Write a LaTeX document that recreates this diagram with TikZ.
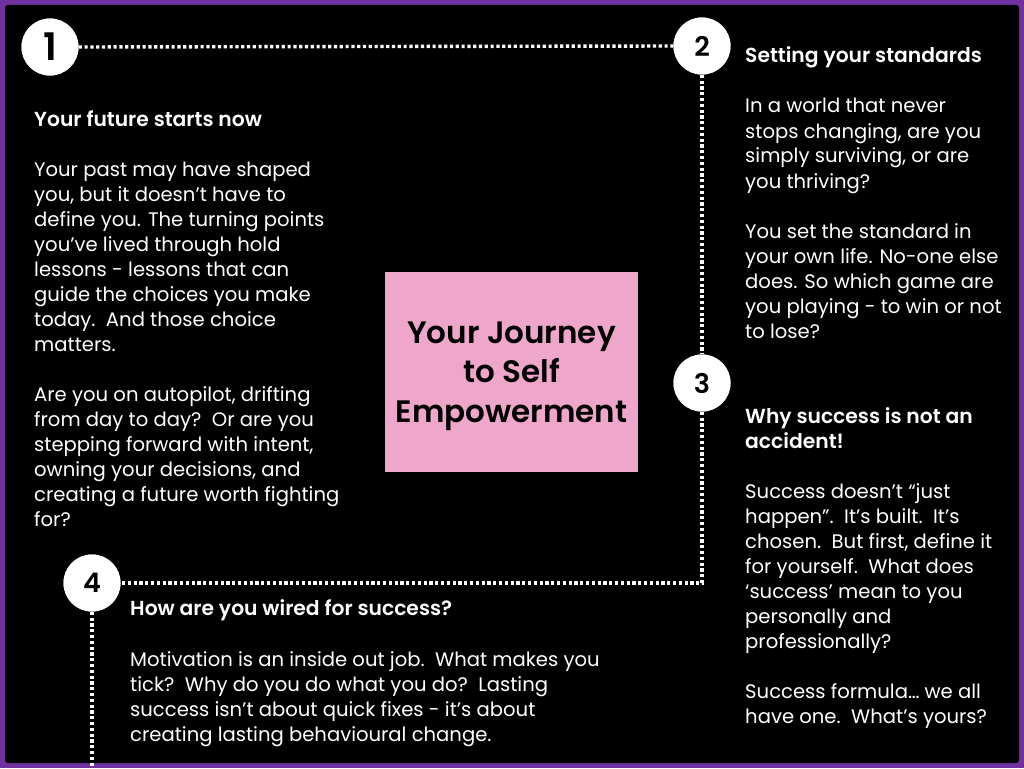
\documentclass[tikz,border=0pt]{standalone}
\usepackage{fontspec}
\setmainfont{Poppins}[BoldFont={Poppins SemiBold}]
\definecolor{frame}{HTML}{7030A0}
\definecolor{pinkbox}{HTML}{EFA6CB}
\newcommand{\blk}[1]{\vtop{\hsize=700pt\parindent=0pt\raggedright #1}}
\newcommand{\hd}[1]{{\fontsize{20.3}{25}\selectfont\bfseries #1}}
\tikzset{
  dotline/.style={white, line width=3.4pt, dash pattern=on 3.2pt off 2.6pt},
  numcirc/.style={circle, fill=white, minimum size=57pt, inner sep=0pt, text=black, font=\bfseries\fontsize{27}{30}\selectfont},
  txt/.style={text=white, anchor=base west, inner sep=0pt, font=\fontsize{19.6}{25}\selectfont},
  titlebox/.style={fill=pinkbox, minimum width=253pt, minimum height=200pt, inner sep=0pt},
  titletext/.style={align=center, inner sep=0pt, text=black, font=\bfseries\fontsize{31}{39.5}\selectfont}
}
\begin{document}
\begin{tikzpicture}[x=1pt,y=-1pt]
\useasboundingbox (0,0) rectangle (1024,768);
\fill[frame] (0,0) rectangle (1024,768);
\fill[black, rounded corners=3pt] (5,5) rectangle (1019,763);

\node[titlebox] (t) at (511.5,372) {};
\node[titletext] (tt) at (511.5,376) {Your Journey\\to Self\\Empowerment};

\coordinate (k) at (702,583);
\coordinate (b) at (92,768);
\node[numcirc] (c1) at (50,47) {};
\node[numcirc] (c2) at (702,46) {};
\node[numcirc] (c3) at (702,383) {};
\node[numcirc] (c4) at (92,583) {};

\draw[dotline] (c1.east) -- (c2.west);
\draw[dotline] (c2.south) -- (c3.north);
\draw[dotline] (c3.south) -- (k) -- (c4.east);
\draw[dotline] (c4.south) -- (b);

\node[numcirc, font=\bfseries\fontsize{38}{40}\selectfont] at (c1) {1};
\node[numcirc] at (c2) {2};
\node[numcirc] at (c3) {3};
\node[numcirc] at (c4) {4};

\node[txt] (b1) at (34,126) {\blk{\hd{Your future starts now}\\[25pt]
Your past may have shaped\\
you, but it doesn’t have to\\
define you. The turning points\\
you’ve lived through hold\\
lessons - lessons that can\\
guide the choices you make\\
today.\ \ And those choice\\
matters.\\[25pt]
Are you on autopilot, drifting\\
from day to day?\ \ Or are you\\
stepping forward with intent,\\
owning your decisions, and\\
creating a future worth fighting\\
for?}};

\node[txt] (b2) at (745,63) {\blk{\hd{Setting your standards}\\[25pt]
In a world that never\\
stops changing, are you\\
simply surviving, or are\\
you thriving?\\[25pt]
You set the standard in\\
your own life. No-one else\\
does. So which game are\\
you playing - to win or not\\
to lose?}};

\node[txt] (b3) at (745,423) {\blk{\hd{Why success is not an}\\
\hd{accident!}\\[25pt]
Success doesn’t “just\\
happen”.\ \ It’s built.\ \ It’s\\
chosen.\ \ But first, define it\\
for yourself.\ \ What does\\
‘success’ mean to you\\
personally and\\
professionally?\\[25pt]
Success formula… we all\\
have one.\ \ What’s yours?}};

\node[txt] (b4) at (130,615) {\blk{\hd{How are you wired for success?}\\[26pt]
Motivation is an inside out job.\ \ What makes you\\
tick?\ \ Why do you do what you do?\ \ Lasting\\
success isn’t about quick fixes - it’s about\\
creating lasting behavioural change.}};
\end{tikzpicture}
\end{document}
